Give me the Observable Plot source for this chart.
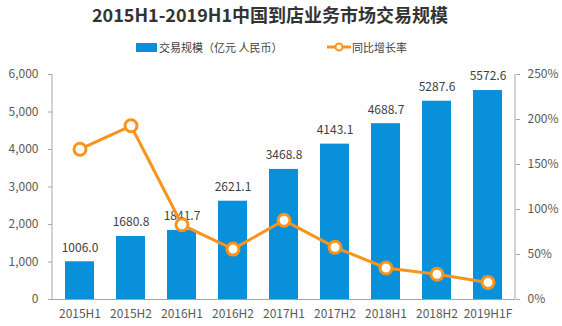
<!DOCTYPE html>
<html><head><meta charset="utf-8">
<script src="https://cdn.jsdelivr.net/npm/d3@7"></script>
<script src="https://cdn.jsdelivr.net/npm/@observablehq/plot@0.6"></script>
<style>
body{margin:0;background:#fff;font-family:"Noto Sans CJK SC","Noto Sans",sans-serif;}
#wrap{position:relative;width:562px;height:326px;overflow:hidden;}
#title{position:absolute;top:2px;left:0;width:540px;text-align:center;font-size:18px;font-weight:bold;color:#333;line-height:24px;}
.leg{position:absolute;top:39px;font-size:11px;color:#404040;line-height:16px;display:flex;align-items:center;}
#chart{position:absolute;top:60px;left:0;}
</style></head>
<body><div id="wrap">
<div id="title">2015H1-2019H1中国到店业务市场交易规模</div>
<div class="leg" style="left:136px"><span style="display:inline-block;width:21px;height:9px;background:#0990DA;margin-right:2px"></span>交易规模（亿元 人民币）</div>
<div class="leg" style="left:327px"><svg width="24" height="12" style="margin-right:1px"><line x1="0" y1="6" x2="24" y2="6" stroke="#F7941D" stroke-width="3"/><circle cx="12" cy="6" r="3.5" fill="#fff" stroke="#F7941D" stroke-width="2"/></svg>同比增长率</div>
<div id="chart"></div>
</div>
<script>
const periods = ["2015H1","2015H2","2016H1","2016H2","2017H1","2017H2","2018H1","2018H2","2019H1F"];
const volume = [1006.0,1680.8,1841.7,2621.1,3468.8,4143.1,4688.7,5287.6,5572.6];
const growth = [167,193,83,56,88,58,35,28,19];
const leftTicks = [0,1000,2000,3000,4000,5000,6000];
const rightTicks = [0,50,100,150,200,250];

const k = 6000/250;
const data = periods.map((p,i)=>({p, v: volume[i], g: growth[i]}));
const blue = "#0990DA", orange = "#F7941D", axisColor = "#A6A6A6", txt = "#595959";

// vertical axis lines drawn from the plot's own dimensions and y scale
function axisLines(index, scales, values, dim) {
  const ns = "http://www.w3.org/2000/svg";
  const g = document.createElementNS(ns, "g");
  const y0 = scales.y(0), y1 = scales.y(6000);
  for (const x of [dim.marginLeft, dim.width - dim.marginRight]) {
    const l = document.createElementNS(ns, "line");
    l.setAttribute("x1", x); l.setAttribute("x2", x);
    l.setAttribute("y1", y0); l.setAttribute("y2", y1);
    l.setAttribute("stroke", axisColor);
    g.appendChild(l);
  }
  return g;
}

const plot = Plot.plot({
  width: 562, height: 266,
  marginLeft: 52, marginRight: 47, marginTop: 14, marginBottom: 27,
  style: {fontFamily: '"Noto Sans CJK SC","Noto Sans",sans-serif', fontSize: "12px", color: txt, background: "#fff"},
  x: {domain: periods, paddingInner: 0.44, paddingOuter: 0.22, label: null},
  y: {domain: [0,6000], label: null},
  marks: [
    Plot.barY(data, {x: "p", y: "v", fill: blue}),
    Plot.text(data, {x: "p", y: "v", text: d => d.v.toFixed(1), dy: -14, fill: "#404040", fontSize: 12}),
    Plot.axisY({ticks: leftTicks, tickFormat: d3.format(","), tickSize: 4, tickPadding: 10, stroke: axisColor, fill: txt, label: null, fontSize: 12}),
    Plot.axisY({anchor: "right", ticks: rightTicks.map(d=>d*k), tickFormat: d => (d/k)+"%", tickSize: 4, tickPadding: 8, stroke: axisColor, fill: txt, label: null, fontSize: 12}),
    axisLines,
    Plot.axisX({tickSize: 0, tickPadding: 10, fill: txt, label: null, fontSize: 12}),
    Plot.ruleY([0], {stroke: axisColor}),
    Plot.line(data, {x: "p", y: d => d.g*k, stroke: orange, strokeWidth: 3}),
    Plot.dot(data, {x: "p", y: d => d.g*k, r: 6, fill: "#fff", stroke: orange, strokeWidth: 3})
  ]
});
document.getElementById("chart").appendChild(plot);
</script>
</body></html>
